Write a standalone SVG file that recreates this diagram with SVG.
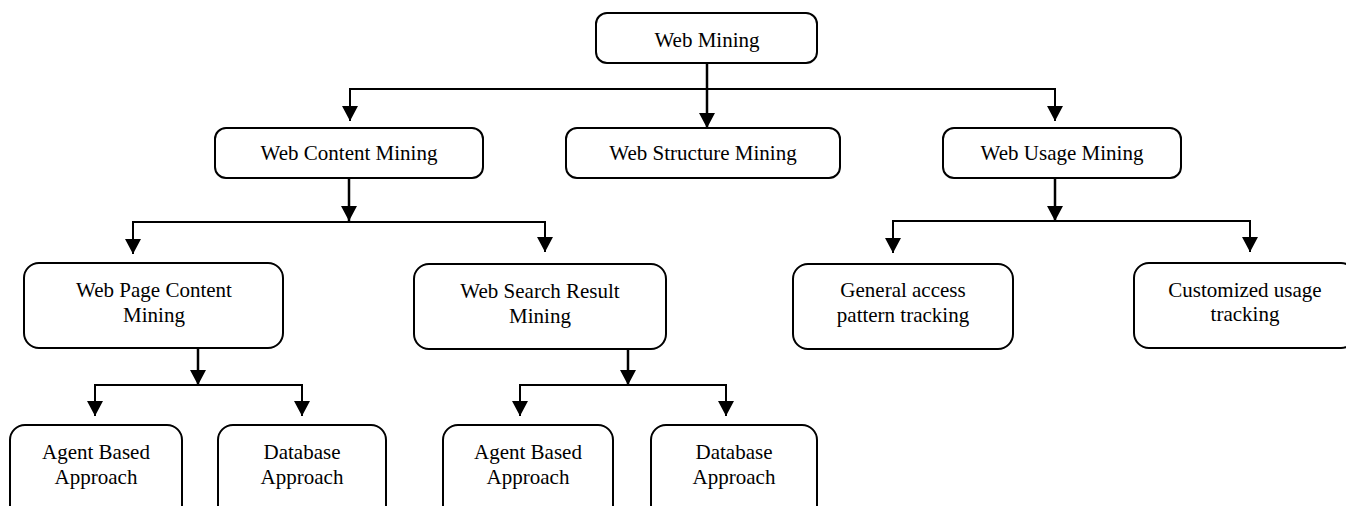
<svg xmlns="http://www.w3.org/2000/svg" width="1346" height="506" viewBox="0 0 1346 506">
<style>
.box{fill:#fff;stroke:#000;stroke-width:2}
.t{font-family:"Liberation Serif","Times New Roman",serif;font-size:21px;fill:#000;text-anchor:middle}
.c{fill:none;stroke:#000;stroke-width:2;marker-end:url(#ah)}
.cv{fill:none;stroke:#000;stroke-width:2.5;marker-end:url(#ah)}
</style>
<defs>
<marker id="ah" viewBox="0 0 15 16" refX="15" refY="8" markerWidth="15" markerHeight="16" markerUnits="userSpaceOnUse" orient="auto">
<path d="M0,0 L15,8 L0,16 z" fill="#000"/>
</marker>
</defs>
<rect width="1346" height="506" fill="#fff"/>
<g id="connectors">
<path class="cv" d="M707,63 V128"/>
<path class="c" d="M707,89 H350 V121"/>
<path class="c" d="M707,89 H1055 V121"/>
<path class="cv" d="M349,178 V221"/>
<path class="c" d="M349,222 H133 V254"/>
<path class="c" d="M349,222 H545 V252"/>
<path class="cv" d="M1055,178 V221"/>
<path class="c" d="M1055,221 H893 V253"/>
<path class="c" d="M1055,221 H1250 V252"/>
<path class="cv" d="M198,348 V385"/>
<path class="c" d="M198,385 H95 V416"/>
<path class="c" d="M198,385 H302 V416"/>
<path class="cv" d="M628,349 V385"/>
<path class="c" d="M628,385 H520 V416"/>
<path class="c" d="M628,385 H726 V416"/>
</g>
<g id="web-mining"><rect class="box" x="596" y="13" width="221" height="50" rx="11"/><text class="t" x="707" y="47">Web Mining</text></g>
<g id="web-content-mining"><rect class="box" x="215" y="128" width="268" height="50" rx="11"/><text class="t" x="349" y="160">Web Content Mining</text></g>
<g id="web-structure-mining"><rect class="box" x="566" y="128" width="274" height="50" rx="11"/><text class="t" x="703" y="160">Web Structure Mining</text></g>
<g id="web-usage-mining"><rect class="box" x="943" y="128" width="238" height="50" rx="11"/><text class="t" x="1062" y="160">Web Usage Mining</text></g>
<g id="web-page-content-mining"><rect class="box" x="24" y="263" width="259" height="85" rx="15"/><text class="t" x="154" y="297">Web Page Content</text><text class="t" x="154" y="322">Mining</text></g>
<g id="web-search-result-mining"><rect class="box" x="414" y="264" width="252" height="85" rx="15"/><text class="t" x="540" y="298">Web Search Result</text><text class="t" x="540" y="323">Mining</text></g>
<g id="general-access"><rect class="box" x="793" y="264" width="220" height="85" rx="15"/><text class="t" x="903" y="297">General access</text><text class="t" x="903" y="322">pattern tracking</text></g>
<g id="customized-usage"><rect class="box" x="1134" y="263" width="222" height="85" rx="15"/><text class="t" x="1245" y="297">Customized usage</text><text class="t" x="1245" y="321">tracking</text></g>
<g id="agent-based-1"><rect class="box" x="10" y="425" width="172" height="100" rx="15"/><text class="t" x="96" y="459">Agent Based</text><text class="t" x="96" y="484">Approach</text></g>
<g id="database-1"><rect class="box" x="218" y="425" width="168" height="100" rx="15"/><text class="t" x="302" y="459">Database</text><text class="t" x="302" y="484">Approach</text></g>
<g id="agent-based-2"><rect class="box" x="443" y="425" width="170" height="100" rx="15"/><text class="t" x="528" y="459">Agent Based</text><text class="t" x="528" y="484">Approach</text></g>
<g id="database-2"><rect class="box" x="651" y="425" width="166" height="100" rx="15"/><text class="t" x="734" y="459">Database</text><text class="t" x="734" y="484">Approach</text></g>
</svg>
